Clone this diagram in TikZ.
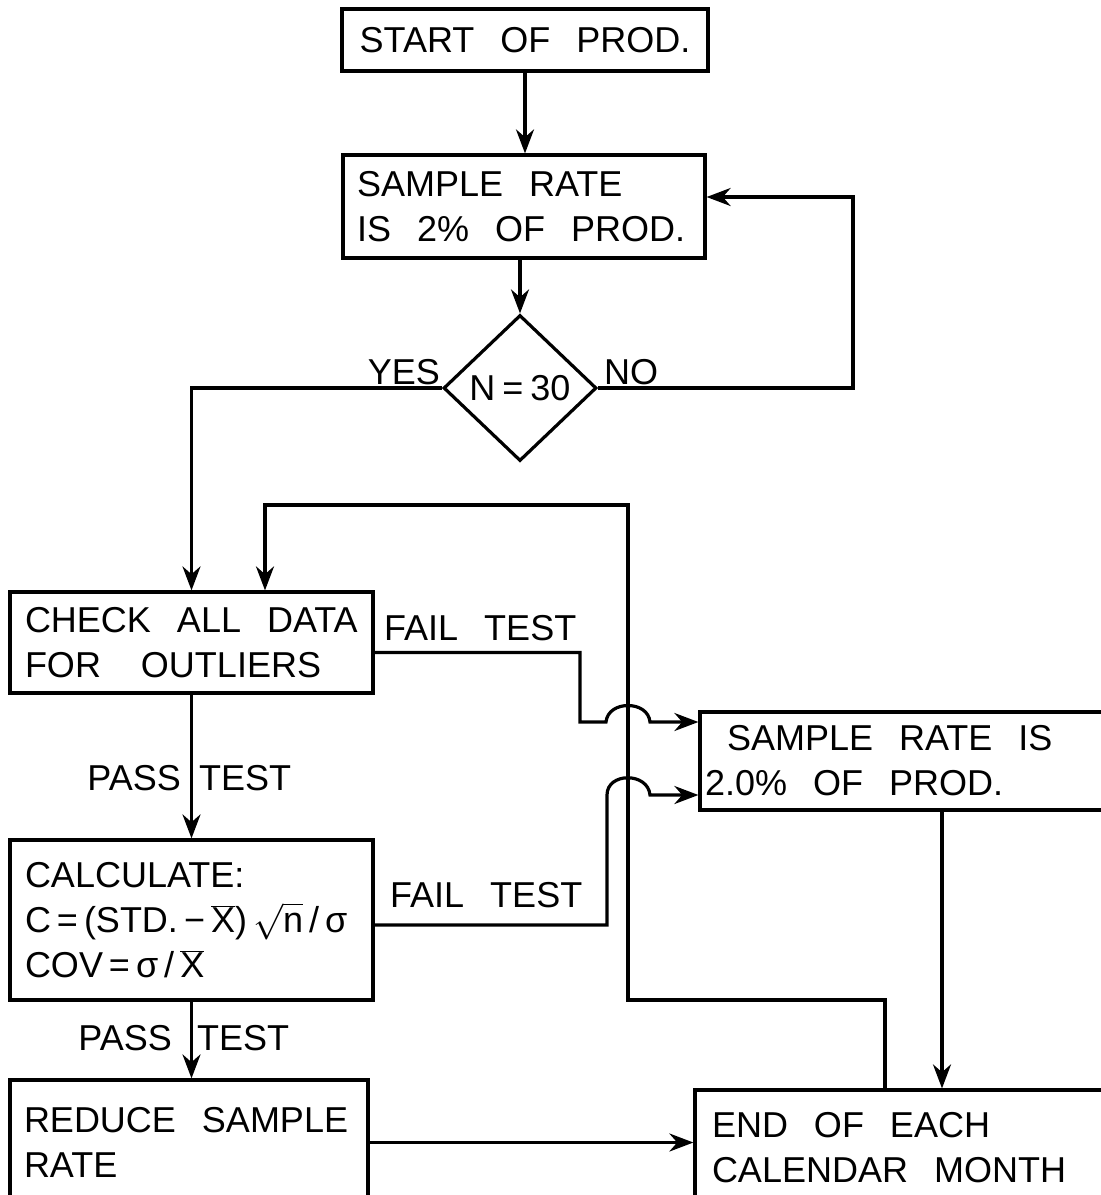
\documentclass[tikz,border=0pt]{standalone}
\usepackage{fix-cm}
\usepackage{fontspec}
\setmainfont{Liberation Sans}
\usetikzlibrary{shapes.geometric,arrows.meta}
\newcommand\flowfont{\fontsize{36}{45}\selectfont}
\newcommand\ws{\hspace*{26pt}}
\begin{document}
\begin{tikzpicture}[x=1pt,y=-1pt,
  lw/.style={line width=3.2pt},
  box/.style={draw, lw, inner ysep=0pt, align=left, font=\flowfont},
  arr/.style={lw, -{Stealth[length=24pt,width=18pt]}},
  lab/.style={inner sep=0pt, font=\flowfont}]
\useasboundingbox (0,0) rectangle (1101,1195);
\fill[white] (0,0) rectangle (1101,1195);
\clip (0,0) rectangle (1101,1195);

% nodes
\node[box, align=center, text width=338pt, inner xsep=14pt, minimum height=62pt] (start) at (525,40) {START\ws OF\ws PROD.};
\node[box, text width=334pt, inner xsep=14pt, minimum height=103pt] (s2) at (524,206.5) {SAMPLE\ws RATE\\IS\ws 2\%\ws OF\ws PROD.};
\node[diamond, draw, lw, minimum width=153pt, minimum height=146pt, inner sep=0pt,
      label={[lab]center:N\kern7pt=\kern7pt30}] (dia) at (520,388) {};
\node[box, text width=333pt, inner xsep=15pt, minimum height=101pt] (check) at (191.5,642.5) {CHECK\ws ALL\ws DATA\\FOR\hspace*{40pt}OUTLIERS};
\node[box, text width=333pt, inner xsep=15pt, minimum height=160pt] (calc) at (191.5,920)
  {CALCULATE:\\
   C\,=\,(STD.\,−\,$\overline{\hbox{X}}$)\,$\sqrt{\hbox{n}}$\,/\,σ\\
   COV\,=\,σ\,/\,$\overline{\hbox{X}}$};
\node[box, text width=330pt, inner xsep=14pt, minimum height=125pt] (reduce) at (189,1142.5) {REDUCE\ws SAMPLE\\RATE};
\node[box, text width=420pt, inner xsep=5pt, minimum height=98pt] (sr2) at (915,761) {\hspace*{22pt}SAMPLE\ws RATE\ws IS\\2.0\%\ws OF\ws PROD.};
\node[box, text width=401pt, inner xsep=17pt, minimum height=115pt] (end) at (912.5,1147.5) {END\ws OF\ws EACH\\CALENDAR\ws MONTH};

% bend coordinates
\coordinate (nr) at (853,197);
\coordinate (lp1) at (885,1000);
\coordinate (lp2) at (628,505);
\coordinate (lp3) at (265,505);
\coordinate (f1) at (580,722);
\coordinate (h1a) at (606,722);
\coordinate (h1b) at (650,722);
\coordinate (f2) at (607,795);
\coordinate (h2b) at (650,795);
\coordinate (v) at (942,0);

% connectors
\draw[arr] (start.south) -- (start.south |- s2.north);
\draw[arr] (dia.north |- s2.south) -- (dia.north);
\draw[arr] (dia.west) -| (check.north);
\draw[arr] (dia.east) -| (nr) -- (nr -| s2.east);
\draw[arr] (check.south) -- (check.south |- calc.north);
\draw[arr] (calc.south) -- (calc.south |- reduce.north);
\draw[arr] (reduce.east) -- (reduce.east -| end.west);
\draw[arr] (sr2.south -| v) -- (end.north -| v);
\draw[arr] (end.north -| lp1) -- (lp1) -- (lp2 |- lp1) -- (lp2) -- (lp3) -- (lp3 |- check.north);
\draw[arr] ([yshift=-10pt]check.east) -| (f1) -- (h1a)
   .. controls (608,700) and (648,700) .. (h1b) -- (h1b -| sr2.west);
\draw[arr] ([yshift=-5pt]calc.east) -| (f2)
   .. controls (607,772) and (648,772) .. (h2b) -- (h2b -| sr2.west);

% labels
\node[lab, anchor=base east] (yes) at (440,384) {YES};
\node[lab, anchor=base west] (no) at (604,384) {NO};
\node[lab, anchor=base west] (fail1) at (384,640) {FAIL\ws TEST};
\node[lab, anchor=base east] (pass1) at (181,790) {PASS};
\node[lab, anchor=base west] (test1) at (199,790) {TEST};
\node[lab, anchor=base west] (fail2) at (390,907) {FAIL\ws TEST};
\node[lab, anchor=base east] (pass2) at (172,1050) {PASS};
\node[lab, anchor=base west] (test2) at (197,1050) {TEST};
\end{tikzpicture}
\end{document}
